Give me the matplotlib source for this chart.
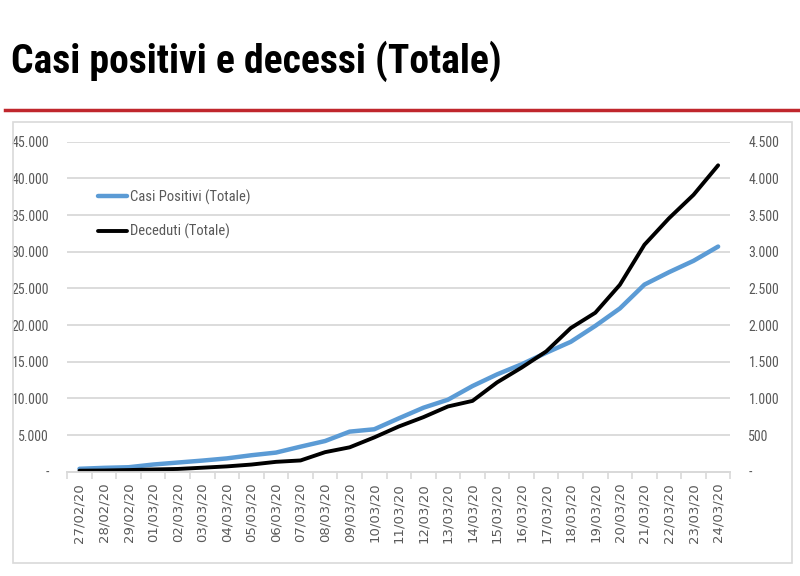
import matplotlib
matplotlib.use("Agg")
import matplotlib.pyplot as plt
from matplotlib.ticker import FuncFormatter
from matplotlib.lines import Line2D
from matplotlib.patches import Rectangle

# Data
dates = ["27/02/20", "28/02/20", "29/02/20", "01/03/20", "02/03/20", "03/03/20",
         "04/03/20", "05/03/20", "06/03/20", "07/03/20", "08/03/20", "09/03/20",
         "10/03/20", "11/03/20", "12/03/20", "13/03/20", "14/03/20", "15/03/20",
         "16/03/20", "17/03/20", "18/03/20", "19/03/20", "20/03/20", "21/03/20",
         "22/03/20", "23/03/20", "24/03/20"]
casi_positivi = [403, 531, 615, 984, 1254, 1520, 1820, 2251, 2612, 3420, 4189, 5469,
                 5791, 7280, 8725, 9820, 11685, 13272, 14649, 16220, 17713, 19884,
                 22264, 25515, 27206, 28761, 30703]
deceduti = [14, 17, 23, 31, 38, 55, 73, 98, 135, 154, 267, 333,
            468, 617, 744, 890, 966, 1218, 1420, 1640, 1959, 2168,
            2549, 3095, 3456, 3776, 4178]

plt.rcParams['font.family'] = ['Roboto Condensed', 'Liberation Sans', 'DejaVu Sans']
grey = "#595959"

fig = plt.figure(figsize=(8, 5.76), dpi=100)
fig.patch.set_facecolor("white")

# Title and red rule
fig.text(0.014, 0.893, "Casi positivi e decessi (Totale)", fontsize=28.5,
         fontweight="bold", color="black", ha="left", va="center")
fig.add_artist(Line2D([0.006, 1.0], [0.809, 0.809], color="#C0272D", lw=2.5))

# Chart border
fig.add_artist(Rectangle((0.016, 0.023), 0.974, 0.765, transform=fig.transFigure,
                         fill=False, edgecolor="#D9D9D9", lw=1.2))

ax = fig.add_axes([0.084, 0.181, 0.829, 0.573])
ax2 = ax.twinx()

x = list(range(len(dates)))
l1, = ax.plot(x, casi_positivi, color="#5B9BD5", lw=3.2, solid_capstyle="round")
l2, = ax2.plot(x, deceduti, color="black", lw=2.8, solid_capstyle="round")

ax.set_xlim(-0.5, len(dates) - 0.5)
ax.set_ylim(0, 45000)
ax2.set_ylim(0, 4500)
ax.set_yticks(range(0, 45001, 5000))
ax2.set_yticks(range(0, 4501, 500))

def thousands(v, pos):
    if v == 0:
        return "-"
    return f"{int(v):,}".replace(",", ".")

ax.yaxis.set_major_formatter(FuncFormatter(thousands))
ax2.yaxis.set_major_formatter(FuncFormatter(thousands))

ax.grid(axis="y", color="#D9D9D9", lw=1.3)
ax.set_axisbelow(True)

for a in (ax, ax2):
    for s in ("top", "left", "right"):
        a.spines[s].set_visible(False)
    a.spines["bottom"].set_color("#D9D9D9")
    a.spines["bottom"].set_linewidth(1.3)
    a.tick_params(axis="y", length=0, labelsize=10, labelcolor=grey, pad=13)

# category labels at centres, tick marks at the boundaries
ax.set_xticks(x)
ax.set_xticklabels(dates, rotation=90, fontsize=9.5, color=grey,
                   family="DejaVu Sans")
ax.tick_params(axis="x", length=0, pad=8)
ax.set_xticks([i - 0.5 for i in range(len(dates) + 1)], minor=True)
ax.tick_params(axis="x", which="minor", length=5, color="#D9D9D9", width=1.2)

ax.legend([l1, l2], ["Casi Positivi (Totale)", "Deceduti (Totale)"],
          loc="upper left", bbox_to_anchor=(0.027, 0.895), frameon=False,
          fontsize=10.5, labelcolor=grey, handlelength=2.0, handletextpad=0.15,
          labelspacing=1.3)

fig.savefig("out.png", dpi=100)
